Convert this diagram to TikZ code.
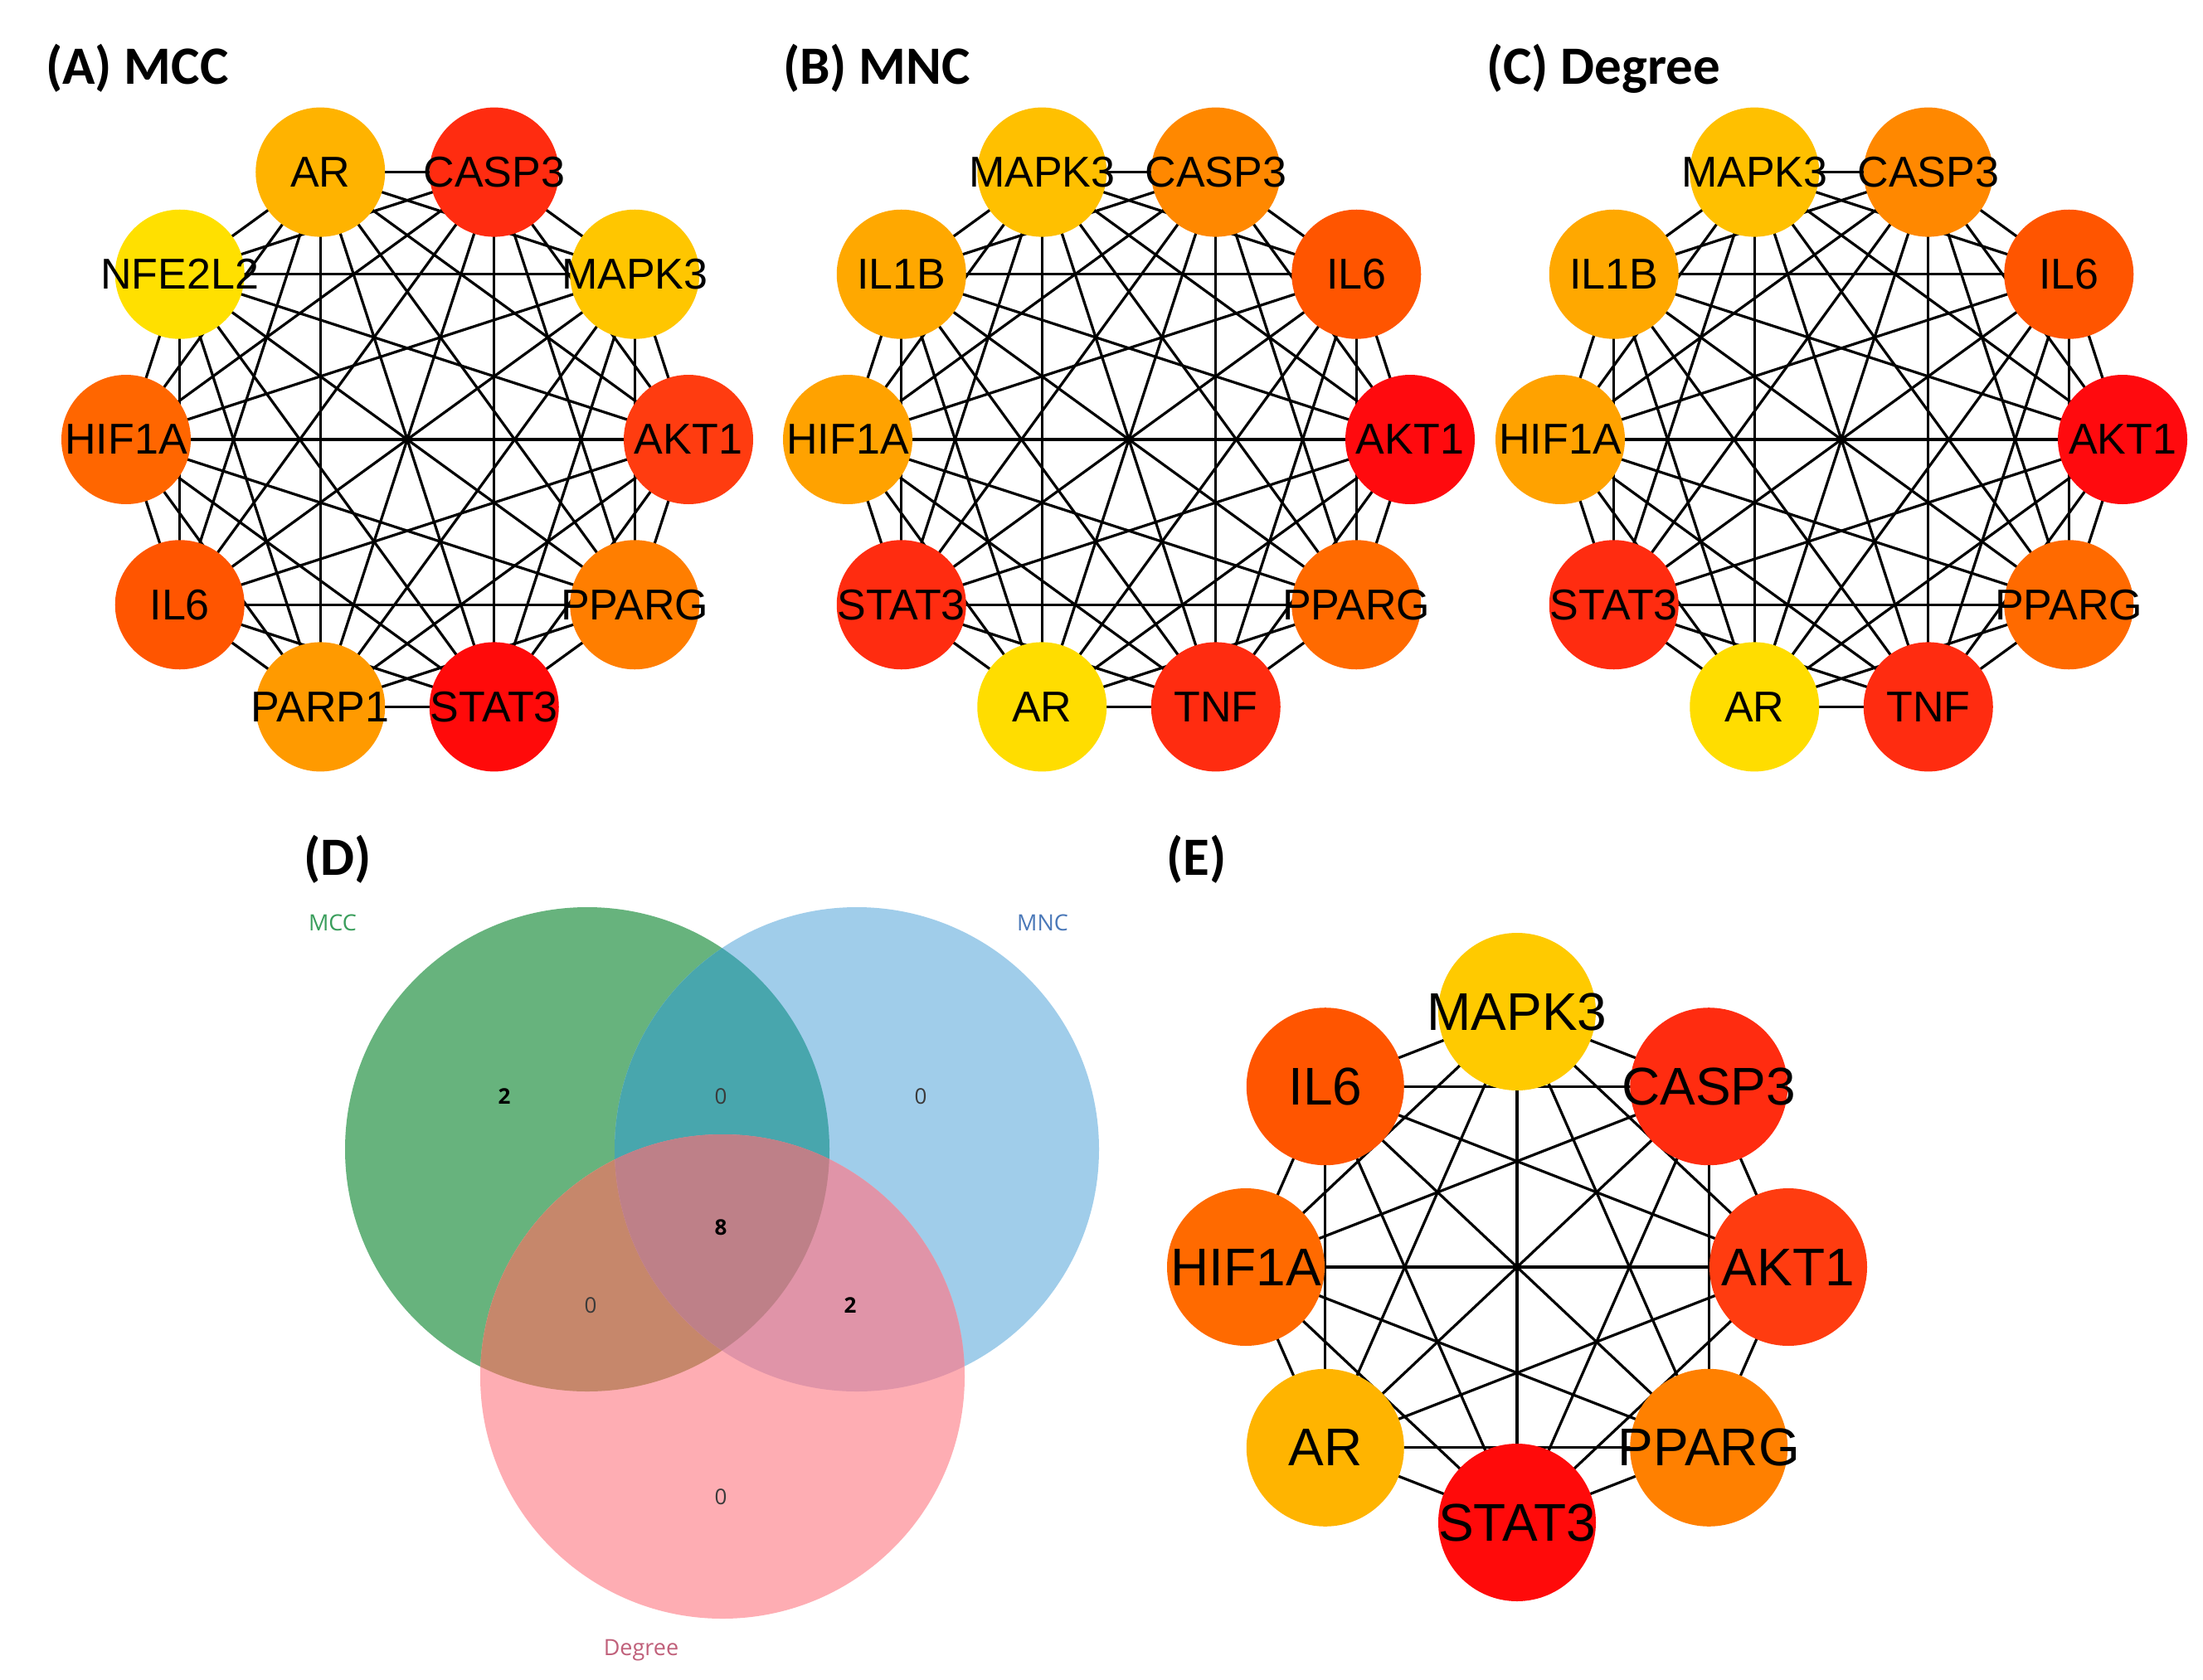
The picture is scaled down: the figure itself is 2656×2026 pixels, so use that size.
\documentclass[tikz,border=0pt]{standalone}
\usepackage{fontspec}
\setmainfont{Liberation Sans}
\newfontfamily\calib{Carlito}
\newfontfamily\opens{Open Sans}
\usetikzlibrary{backgrounds}
% panel A colours
\definecolor{aAKT}{HTML}{FF3C10}
\definecolor{aMAPK}{HTML}{FFC600}
\definecolor{aCASP}{HTML}{FF2C10}
\definecolor{aAR}{HTML}{FFB300}
\definecolor{aNFE}{HTML}{FFE000}
\definecolor{aHIF}{HTML}{FF6600}
\definecolor{aIL6}{HTML}{FF5500}
\definecolor{aPARP}{HTML}{FF9A00}
\definecolor{aSTAT}{HTML}{FF0A0A}
\definecolor{aPPARG}{HTML}{FF7E00}
% panel B/C colours
\definecolor{bAKT}{HTML}{FF0A0E}
\definecolor{bIL6}{HTML}{FF5500}
\definecolor{bCASP}{HTML}{FF8800}
\definecolor{bMAPK}{HTML}{FFC000}
\definecolor{bIL1B}{HTML}{FFA800}
\definecolor{bHIF}{HTML}{FFA200}
\definecolor{bSTAT}{HTML}{FF2C10}
\definecolor{bAR}{HTML}{FFDD00}
\definecolor{bTNF}{HTML}{FF2C10}
\definecolor{bPPARG}{HTML}{FF6A00}
% panel E colours
\definecolor{eAKT}{HTML}{FF3C10}
\definecolor{eCASP}{HTML}{FF2C10}
\definecolor{eMAPK}{HTML}{FFCA00}
\definecolor{eIL6}{HTML}{FF5500}
\definecolor{eHIF}{HTML}{FF6A00}
\definecolor{eAR}{HTML}{FFB400}
\definecolor{eSTAT}{HTML}{FF0A0A}
\definecolor{ePPARG}{HTML}{FF8000}
% venn colours
\definecolor{vG}{HTML}{67B37D}
\definecolor{vB}{HTML}{A0CDEA}
\definecolor{vP}{HTML}{FEADB3}
\definecolor{vGB}{HTML}{48A6AD}
\definecolor{vGP}{HTML}{C6876B}
\definecolor{vBP}{HTML}{E094A8}
\definecolor{vGBP}{HTML}{BE8088}
\definecolor{tG}{HTML}{3A9E5C}
\definecolor{tB}{HTML}{4A78B8}
\definecolor{tP}{HTML}{C0607A}
\definecolor{tN}{HTML}{3A3A3A}
\begin{document}
\begin{tikzpicture}[x=1pt,y=-1pt,
  gene/.style={circle,inner sep=0pt,minimum size=156pt,font=\fontsize{52}{60}\selectfont,text=black},
  geneE/.style={circle,inner sep=0pt,minimum size=190pt,font=\fontsize{64}{72}\selectfont,text=black},
  edge/.style={line width=3.2pt,black},
  paneltitle/.style={anchor=base west,inner sep=0pt,font=\calib\bfseries\fontsize{65}{74}\selectfont},
  vlabel/.style={inner sep=0pt,font=\opens\fontsize{27}{32}\selectfont},
  vnum/.style={inner sep=0pt,text=tN,font=\opens\fontsize{26}{30}\selectfont},
  vbold/.style={inner sep=0pt,text=black,font=\opens\bfseries\fontsize{26}{30}\selectfont}]
\useasboundingbox (0,0) rectangle (2656,2026);
\begin{pgfonlayer}{background}
\fill[white] (0,0) rectangle (2656,2026);
\end{pgfonlayer}

% titles
\node[paneltitle] (tA) at (55,102) {(A) MCC};
\node[paneltitle] (tB) at (944,102) {(B) MNC};
\node[paneltitle] (tC) at (1792,102) {(C) Degree};
\node[paneltitle] (tD) at (366,1055) {(D)};
\node[paneltitle] (tE) at (1406,1055) {(E)};

% panel A
\foreach \k/\lab/\col in {0/AKT1/aAKT,1/MAPK3/aMAPK,2/CASP3/aCASP,3/AR/aAR,4/NFE2L2/aNFE,5/HIF1A/aHIF,6/IL6/aIL6,7/PARP1/aPARP,8/STAT3/aSTAT,9/PPARG/aPPARG}
  \node[gene,fill=\col] (a\k) at ({491+339*cos(36*\k)},{530-339*sin(36*\k)}) {\makebox[0pt]{\lab}};
% panel B
\foreach \k/\lab/\col in {0/AKT1/bAKT,1/IL6/bIL6,2/CASP3/bCASP,3/MAPK3/bMAPK,4/IL1B/bIL1B,5/HIF1A/bHIF,6/STAT3/bSTAT,7/AR/bAR,8/TNF/bTNF,9/PPARG/bPPARG}
  \node[gene,fill=\col] (b\k) at ({1361+339*cos(36*\k)},{530-339*sin(36*\k)}) {\makebox[0pt]{\lab}};
% panel C
\foreach \k/\lab/\col in {0/AKT1/bAKT,1/IL6/bIL6,2/CASP3/bCASP,3/MAPK3/bMAPK,4/IL1B/bIL1B,5/HIF1A/bHIF,6/STAT3/bSTAT,7/AR/bAR,8/TNF/bTNF,9/PPARG/bPPARG}
  \node[gene,fill=\col] (c\k) at ({2220+339*cos(36*\k)},{530-339*sin(36*\k)}) {\makebox[0pt]{\lab}};
% panel E
\foreach \k/\lab/\col in {0/AKT1/eAKT,1/CASP3/eCASP,2/MAPK3/eMAPK,3/IL6/eIL6,4/HIF1A/eHIF,5/AR/eAR,6/STAT3/eSTAT,7/PPARG/ePPARG}
  \node[geneE,fill=\col] (e\k) at ({1829+327*cos(45*\k)},{1528-308*sin(45*\k)}) {\makebox[0pt]{\lab}};

% edges (complete graphs)
\begin{pgfonlayer}{background}
\foreach \p in {a,b,c}{
  \foreach \i in {0,...,8}{
    \pgfmathtruncatemacro\nx{\i+1}
    \foreach \j in {\nx,...,9}{
      \draw[edge] (\p\i.center) -- (\p\j.center);
    }
  }
}
\foreach \i in {0,...,6}{
  \pgfmathtruncatemacro\nx{\i+1}
  \foreach \j in {\nx,...,7}{
    \draw[edge] (e\i.center) -- (e\j.center);
  }
}
\end{pgfonlayer}

% Venn diagram
\coordinate (vg) at (708,1386);
\coordinate (vb) at (1033,1386);
\coordinate (vp) at (871,1660);
\fill[vG] (vg) circle[radius=292pt];
\fill[vB] (vb) circle[radius=292pt];
\fill[vP] (vp) circle[radius=292pt];
\begin{scope}
  \clip (vg) circle[radius=292pt];
  \fill[vGB] (vb) circle[radius=292pt];
  \fill[vGP] (vp) circle[radius=292pt];
\end{scope}
\begin{scope}
  \clip (vb) circle[radius=292pt];
  \fill[vBP] (vp) circle[radius=292pt];
\end{scope}
\begin{scope}
  \clip (vg) circle[radius=292pt];
  \clip (vb) circle[radius=292pt];
  \fill[vGBP] (vp) circle[radius=292pt];
\end{scope}
\node[vlabel,text=tG] (lG) at (401,1113) {MCC};
\node[vlabel,text=tB] (lB) at (1257,1113) {MNC};
\node[vlabel,text=tP] (lP) at (773,1990) {Degree};
\node[vbold] (n1) at (608,1322) {2};
\node[vnum] (n2) at (869,1322) {0};
\node[vnum] (n3) at (1110,1322) {0};
\node[vbold] (n4) at (869,1480) {8};
\node[vnum] (n5) at (712,1574) {0};
\node[vbold] (n6) at (1025,1574) {2};
\node[vnum] (n7) at (869,1805) {0};
\end{tikzpicture}
\end{document}
